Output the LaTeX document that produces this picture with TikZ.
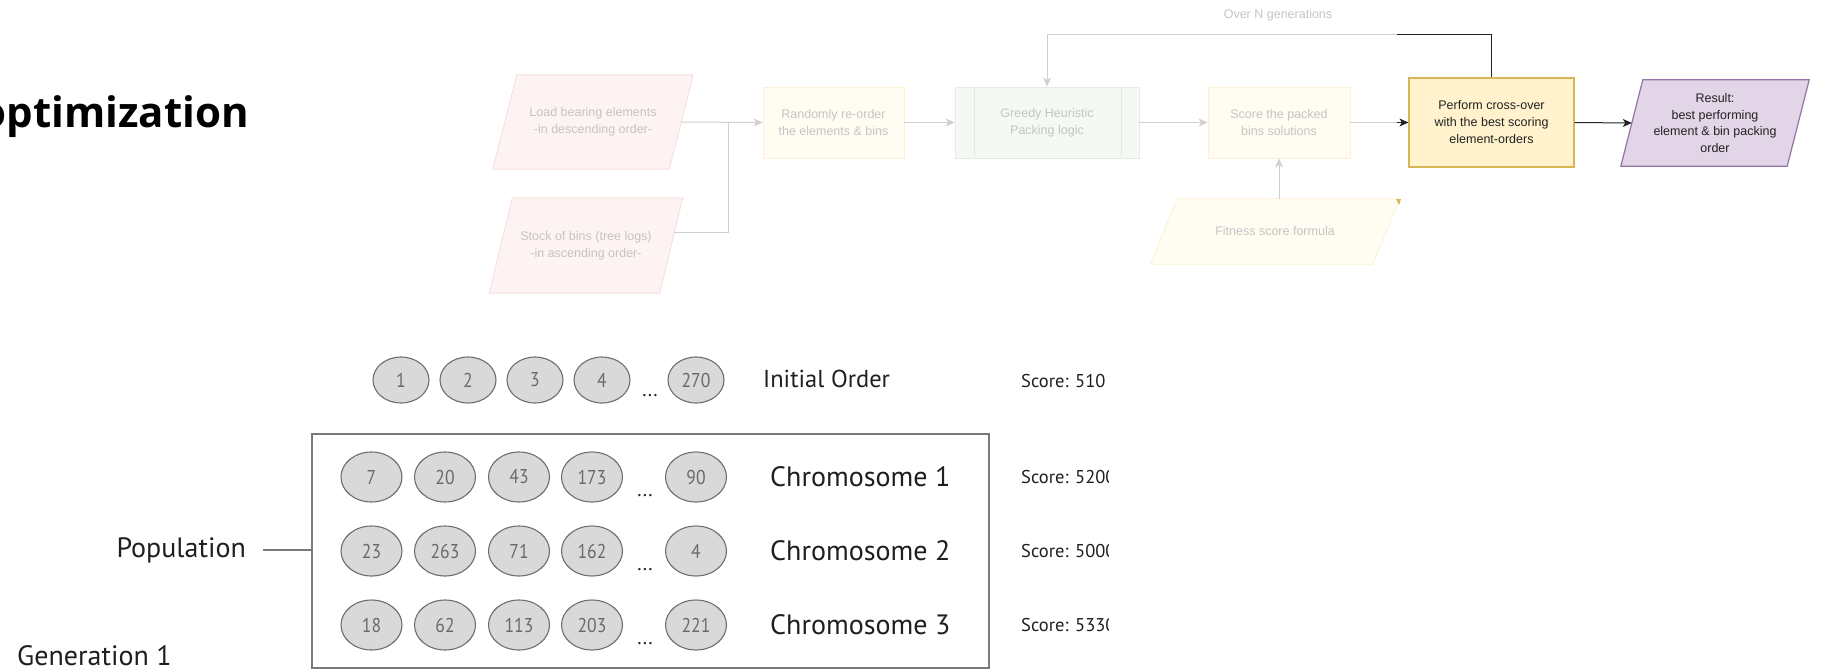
\documentclass[tikz,border=0pt]{standalone}
\usepackage{fontspec}
\setmainfont{Liberation Sans}
\newfontfamily\ptsans{PT Sans}
\newfontfamily\numfont[FakeStretch=0.88]{PT Sans}
\newfontfamily\titlefont{Open Sans}
\usetikzlibrary{shapes.geometric,arrows.meta,backgrounds}

\definecolor{fadetxt}{HTML}{C4C4C4}
\definecolor{fadeline}{HTML}{D0D0D0}
\definecolor{pinkfill}{HTML}{FDF3F2}
\definecolor{pinkdraw}{HTML}{F6DCDA}
\definecolor{yelfill}{HTML}{FFFCF2}
\definecolor{yeldraw}{HTML}{FBF1D3}
\definecolor{grnfill}{HTML}{F5F9F3}
\definecolor{grndraw}{HTML}{E2EDDD}
\definecolor{perffill}{HTML}{FFF2CC}
\definecolor{perfdraw}{HTML}{D6B656}
\definecolor{resfill}{HTML}{E1D5E7}
\definecolor{resdraw}{HTML}{9673A6}
\definecolor{genefill}{HTML}{D9D9D9}
\definecolor{genedraw}{HTML}{6E6E6E}
\definecolor{genetxt}{HTML}{6A6A6A}
\definecolor{boxdraw}{HTML}{7A7A7A}
\definecolor{darkline}{HTML}{222222}

\newcommand\parag[3]{\path[#1] ([xshift=#3pt]#2.north west) -- ([xshift=#3pt]#2.north east) -- ([xshift=-#3pt]#2.south east) -- ([xshift=-#3pt]#2.south west) -- cycle;}

\begin{document}
\begin{tikzpicture}[x=1pt,y=-1pt,
  ftext/.style={font=\fontsize{12.5}{17}\selectfont, text=fadetxt, align=center},
  fbox/.style={ftext, rectangle, draw=yeldraw, fill=yelfill, line width=0.8pt, inner sep=0pt, minimum height=71pt},
  pshape/.style={ftext, rectangle, inner sep=0pt},
  tip/.style={-{Stealth[length=9pt,width=8pt,inset=2.5pt]}},
  fline/.style={draw=fadeline, line width=1pt},
  dline/.style={draw=darkline, line width=1pt},
  gene/.style={ellipse, draw=genedraw, fill=genefill, line width=1.1pt, inner sep=0pt,
    minimum width=61pt, minimum height=50pt, text=genetxt, font=\numfont\fontsize{20}{22}\selectfont},
  gene0/.style={gene, minimum width=56pt, minimum height=46pt},
  dots/.style={font=\ptsans\fontsize{20}{22}\selectfont, text=darkline, inner sep=0pt, anchor=base},
  big/.style={font=\ptsans\fontsize{28}{32}\selectfont, text=black!88, inner sep=0pt},
  score/.style={font=\ptsans\fontsize{18.5}{22}\selectfont, text=black!88, inner sep=0pt, anchor=west}
]
\clip (0,0) rectangle (1823,670);
\useasboundingbox (0,0) rectangle (1823,670);

% title
\node[anchor=base east, inner sep=0pt, font=\titlefont\bfseries\fontsize{42}{46}\selectfont] (title) at (249,127) {optimization};

% ---------- top flow ----------
\node[pshape, minimum width=176pt, minimum height=94pt] (load) at (593,122) {Load bearing elements\\-in descending order-};
\node[pshape, minimum width=170pt, minimum height=95pt] (stock) at (586,245.5) {Stock of bins (tree logs)\\-in ascending order-};
\node[fbox, minimum width=141pt] (rand) at (833.5,122.5) {Randomly re-order\\the elements \& bins};
\node[fbox, draw=grndraw, fill=grnfill, minimum width=184pt] (greedy) at (1047,122.5) {Greedy Heuristic\\Packing logic};
\draw[grndraw, line width=0.8pt] ([xshift=20pt]greedy.north west) -- ([xshift=20pt]greedy.south west)
  ([xshift=-18pt]greedy.north east) -- ([xshift=-18pt]greedy.south east);
\node[fbox, minimum width=142pt] (score) at (1279,122.5) {Score the packed\\bins solutions};
\node[pshape, minimum width=222pt, minimum height=65pt] (fitness) at (1275,231.5) {Fitness score formula};
\node[rectangle, draw=perfdraw, fill=perffill, line width=1.2pt, minimum width=165pt, minimum height=89pt,
  inner sep=0pt, align=center, font=\fontsize{12.5}{17}\selectfont, text=darkline] (perf) at (1491.5,122.5)
  {Perform cross-over\\with the best scoring\\element-orders};
\node[pshape, text=darkline, minimum width=166pt, minimum height=86pt, font=\fontsize{12.5}{16.5}\selectfont] (result) at (1715,123)
  {Result:\\best performing\\element \& bin packing\\order};

\begin{scope}[on background layer]
  \parag{fill=pinkfill, draw=pinkdraw, line width=0.8pt}{load}{12}
  \parag{fill=pinkfill, draw=pinkdraw, line width=0.8pt}{stock}{11.5}
  \parag{fill=yelfill, draw=yeldraw, line width=0.8pt}{fitness}{13.5}
  \parag{fill=resfill, draw=resdraw, line width=1.2pt}{result}{11}
\end{scope}
\fill[perfdraw] (1396,199) -- (1401,199) -- (1399,205) -- cycle;

% connectors
\coordinate (junc) at (728,122.5);
\coordinate (stockpt) at (674,232);
\draw[fline, tip, fadeline] (load.east) -- (rand.west);
\draw[fline] (stockpt) -| (junc);
\draw[fline, tip, fadeline] (rand.east) -- (greedy.west);
\draw[fline, tip, fadeline] (greedy.east) -- (score.west);
\draw[fline, tip, fadeline] (score.south |- fitness.north) -- (score.south);
\coordinate (sarr) at (1397,122.5);
\draw[fline] (score.east) -- (sarr);
\draw[dline, tip] (sarr) -- (perf.west);
\draw[dline, tip] (perf.east) -- (result.west);
\coordinate (fbk) at (1397,34);
\draw[fline, tip, fadeline] (perf.north) |- (greedy.north |- fbk) -- (greedy.north);
\draw[dline] (perf.north) |- (fbk);
\node[ftext] (overn) at (1278,15) {Over N generations};

% ---------- bottom ----------
\node[gene0] (i1) at (401,380) {1};
\node[gene0] (i2) at (468,380) {2};
\node[gene0] (i3) at (535,380) {3};
\node[gene0] (i4) at (602,380) {4};
\node[dots] (id) at (650,396) {...};
\node[gene0] (i5) at (696,380) {270};
\node[big, anchor=west, font=\ptsans\fontsize{24.5}{28}\selectfont] (initlbl) at (763,379) {Initial Order};
\node[score] (s0) at (1021,381) {Score: 510};

\node[draw=boxdraw, line width=1.5pt, minimum width=677pt, minimum height=234pt, inner sep=0pt] (popbox) at (650.5,551) {};

\foreach \r/\y/\a/\b/\c/\d/\e in {1/477/7/20/43/173/90, 2/551/23/263/71/162/4, 3/625/18/62/113/203/221}{
  \node[gene] (c\r1) at (371.5,\y) {\a};
  \node[gene] (c\r2) at (445,\y) {\b};
  \node[gene] (c\r3) at (519,\y) {\c};
  \node[gene] (c\r4) at (592,\y) {\d};
  \node[dots] (cd\r) at (645,\y+19) {...};
  \node[gene] (c\r5) at (696,\y) {\e};
  \node[big, anchor=west] (chr\r) at (770,\y) {Chromosome \r};
}

\begin{scope}
  \clip (1000,430) rectangle (1108,670);
  \node[score] (s1) at (1021,477) {Score: 5200};
  \node[score] (s2) at (1021,551) {Score: 5000};
  \node[score] (s3) at (1021,625) {Score: 5330};
\end{scope}

\node[big, anchor=east] (pop) at (246,550) {Population};
\draw[boxdraw, line width=1.2pt] ([xshift=17pt]pop.east) -- (pop.east -| popbox.west);
\node[big, anchor=west] (gen) at (17,656) {Generation 1};
\end{tikzpicture}
\end{document}
